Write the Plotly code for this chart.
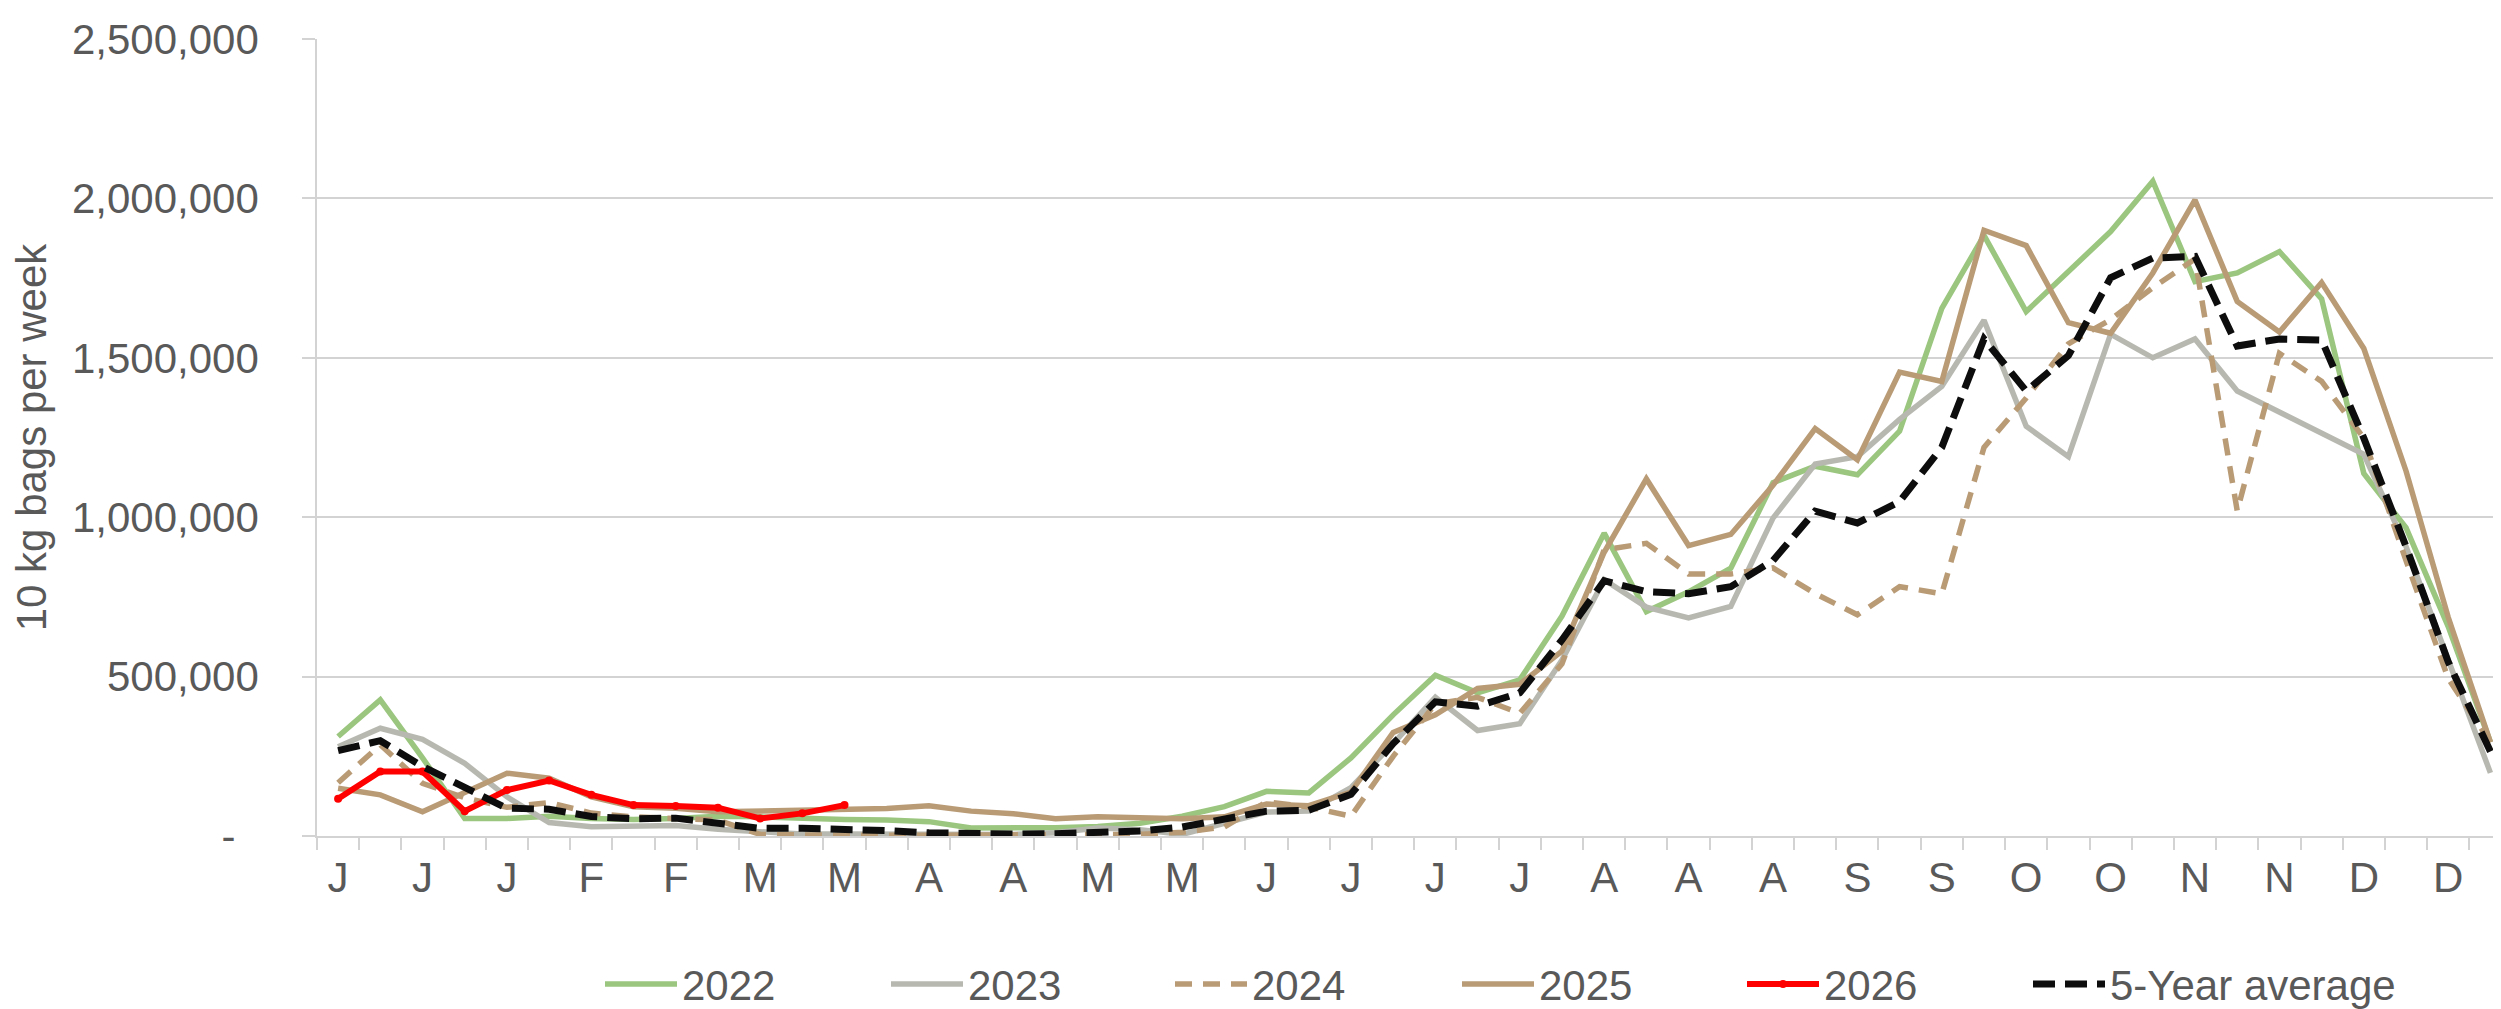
import plotly.graph_objects as go

# ---- data (values in 10 kg bags per week) ----
weeks = list(range(52))
tick_positions = list(range(0, 52, 2))
tick_labels = ["J", "J", "J", "F", "F", "M", "M", "A", "A", "M", "M", "J", "J",
               "J", "J", "A", "A", "A", "S", "S", "O", "O", "N", "N", "D", "D"]

y2022 = [312000, 427000, 245000, 55000, 55000, 62000, 55000, 52000, 55000, 62000,
         60000, 55000, 52000, 50000, 45000, 25000, 25000, 26000, 30000, 40000,
         62000, 92000, 140000, 135000, 245000, 380000, 504000, 449000, 490000, 690000,
         950000, 704000, 766000, 840000, 1108000, 1160000, 1133000, 1270000, 1655000, 1884000,
         1645000, 1773000, 1896000, 2054000, 1739000, 1766000, 1833000, 1685000, 1137000, 967000,
         657000, 294000]

y2023 = [280000, 338000, 303000, 228000, 123000, 42000, 29000, 33000, 33000, 21000,
         14000, 6000, 6000, 5000, 5000, 5000, 5000, 10000, 25000, 20000,
         5000, 40000, 75000, 78000, 152000, 290000, 435000, 331000, 352000, 552000,
         804000, 718000, 684000, 720000, 997000, 1167000, 1190000, 1307000, 1410000, 1618000,
         1285000, 1190000, 1574000, 1500000, 1559000, 1396000, 1330000, 1263000, 1197000, 908000,
         553000, 198000]

y2024 = [167000, 286000, 165000, 120000, 90000, 105000, 72000, 60000, 55000, 50000,
         5000, 2000, 2000, 2000, 2000, 2000, 2000, 2000, 2000, 5000,
         12000, 28000, 107000, 91000, 62000, 250000, 414000, 435000, 385000, 540000,
         898000, 918000, 822000, 822000, 841000, 760000, 694000, 782000, 760000, 1219000,
         1374000, 1544000, 1620000, 1720000, 1810000, 1020000, 1514000, 1426000, 1248000, 864000,
         494000, 294000]

y2025 = [150000, 129000, 76000, 136000, 197000, 181000, 123000, 92000, 87000, 76000,
         78000, 78000, 82000, 86000, 95000, 78000, 70000, 54000, 60000, 56000,
         54000, 60000, 100000, 95000, 138000, 325000, 380000, 463000, 476000, 580000,
         890000, 1120000, 911000, 946000, 1100000, 1278000, 1180000, 1455000, 1426000, 1900000,
         1852000, 1610000, 1577000, 1766000, 1995000, 1677000, 1581000, 1736000, 1529000, 1145000,
         686000, 294000]

y2026 = [117000, 202000, 202000, 78000, 144000, 174000, 129000, 97000, 94000, 89000,
         55000, 71000, 97000]

y5yr = [268000, 299000, 218000, 155000, 87000, 84000, 61000, 54000, 56000, 40000,
        24000, 24000, 22000, 17000, 10000, 7000, 6000, 7000, 9000, 16000,
        28000, 54000, 78000, 81000, 131000, 290000, 421000, 407000, 449000, 615000,
        801000, 766000, 760000, 782000, 864000, 1019000, 982000, 1049000, 1219000, 1559000,
        1396000, 1507000, 1751000, 1813000, 1818000, 1537000, 1559000, 1556000, 1248000, 908000,
        546000, 265000]

y_tickvals = [0, 500000, 1000000, 1500000, 2000000, 2500000]
y_ticktext = ["-\u00a0\u00a0", "500,000", "1,000,000", "1,500,000", "2,000,000", "2,500,000"]

# ---- styles ----
GREEN = "#9BC67F"
GRAY = "#B7B9B1"
TAN = "#B99B76"
RED = "#FF0000"
BLACK = "#0D0D0D"
TXT = "#595959"
GRID = "#D3D3D3"
FONT = "Liberation Sans, Arial, sans-serif"

W, H = 2501, 1009
ML, MR, MT, MB = 309, 0, 31, 181
PW = W - ML - MR
PH = H - MT - MB

fig = go.Figure()
fig.add_trace(go.Scatter(x=weeks, y=y2022, name="2022", mode="lines", legend="legend",
                         line=dict(color=GREEN, width=5.5)))
fig.add_trace(go.Scatter(x=weeks, y=y2023, name="2023", mode="lines", legend="legend2",
                         line=dict(color=GRAY, width=5.5)))
fig.add_trace(go.Scatter(x=weeks, y=y2024, name="2024", mode="lines", legend="legend3",
                         line=dict(color=TAN, width=5.5, dash="17px,11px")))
fig.add_trace(go.Scatter(x=weeks, y=y2025, name="2025", mode="lines", legend="legend4",
                         line=dict(color=TAN, width=5.5)))
fig.add_trace(go.Scatter(x=weeks[:len(y2026)], y=y2026, name="2026", mode="lines+markers",
                         legend="legend5",
                         line=dict(color=RED, width=6),
                         marker=dict(color=RED, size=8)))
fig.add_trace(go.Scatter(x=weeks, y=y5yr, name="5-Year average", mode="lines", legend="legend6",
                         line=dict(color=BLACK, width=7, dash="22px,10px")))

# legend text start positions (px)
text_starts = [682, 968, 1252, 1539, 1824, 2110]
legend_y = -0.186


def legend_cfg(px):
    return dict(orientation="h", x=(px - 90 - ML) / PW, xanchor="left",
                y=legend_y, yanchor="middle",
                font=dict(size=42, color=TXT, family=FONT), itemwidth=72,
                bgcolor="rgba(0,0,0,0)")


fig.update_layout(
    width=W, height=H,
    margin=dict(l=ML, r=MR, t=MT, b=MB, autoexpand=False),
    paper_bgcolor="white", plot_bgcolor="white",
    font=dict(family=FONT, size=42, color=TXT),
    showlegend=True,
    legend=legend_cfg(text_starts[0]),
    legend2=legend_cfg(text_starts[1]),
    legend3=legend_cfg(text_starts[2]),
    legend4=legend_cfg(text_starts[3]),
    legend5=legend_cfg(text_starts[4]),
    legend6=legend_cfg(text_starts[5]),
)

fig.update_xaxes(
    range=[-0.5, 51.44],
    tickmode="array", tickvals=tick_positions, ticktext=tick_labels,
    ticks="", ticklabelstandoff=4,
    tickfont=dict(size=42, color=TXT, family=FONT),
    showgrid=False, zeroline=False,
    showline=True, linecolor=GRID, linewidth=1.5,
    minor=dict(tickmode="linear", tick0=-0.5, dtick=1, ticks="outside",
               ticklen=12, tickcolor=GRID, tickwidth=1.5, showgrid=False),
)

fig.update_yaxes(
    range=[0, 2500000],
    tickmode="array", tickvals=y_tickvals, ticktext=y_ticktext,
    ticks="outside", ticklen=13, tickcolor=GRID, tickwidth=1.5,
    ticklabelstandoff=35,
    tickfont=dict(size=42, color=TXT, family=FONT),
    showgrid=True, gridcolor=GRID, gridwidth=1.5,
    zeroline=False, showline=True, linecolor=GRID, linewidth=1.5,
    title=dict(text="10 kg bags per week", font=dict(size=42, color=TXT, family=FONT),
               standoff=22),
)

fig.write_html("out.html")
